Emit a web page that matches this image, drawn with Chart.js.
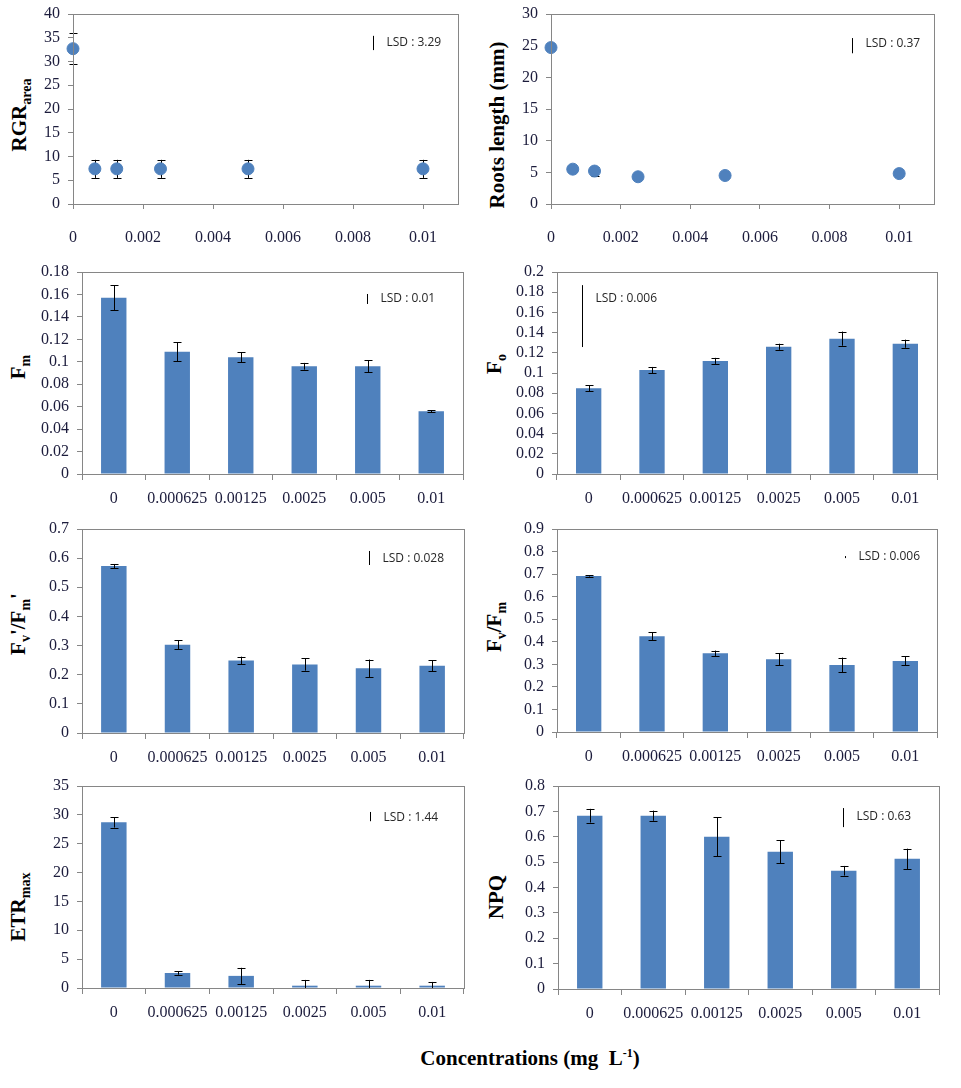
<!DOCTYPE html>
<html>
<head>
<meta charset="utf-8">
<script src="https://cdn.jsdelivr.net/npm/chart.js@4"></script>
<style>
  body { margin: 0; background: #fff; }
  #page { position: relative; width: 961px; height: 1088px; overflow: hidden; }
  canvas { position: absolute; }
  .ytitle {
    position: absolute; white-space: nowrap;
    font: bold 21px "Liberation Serif", serif; color: #000;
    transform: translate(-50%, -50%) rotate(-90deg);
  }
  .ytitle sub { font-size: 14px; }
  #xtitle {
    position: absolute; left: 530px; top: 1058px; transform: translate(-50%, -50%);
    font: bold 21px "Liberation Serif", serif; white-space: nowrap;
  }
  #xtitle sup { font-size: 12px; }
</style>
</head>
<body>
<div id="page">
  <div class="ytitle" style="left:21px;top:115px">RGR<sub>area</sub></div>
  <div class="ytitle" style="left:497px;top:125px">Roots length (mm)</div>
  <div class="ytitle" style="left:20px;top:367px">F<sub>m</sub></div>
  <div class="ytitle" style="left:496px;top:364px">F<sub>o</sub></div>
  <div class="ytitle" style="left:20px;top:624px">F<sub>v</sub>'/F<sub>m</sub>'</div>
  <div class="ytitle" style="left:496px;top:627px">F<sub>v</sub>/F<sub>m</sub></div>
  <div class="ytitle" style="left:20px;top:907px">ETR<sub>max</sub></div>
  <div class="ytitle" style="left:496px;top:897px">NPQ</div>
  <div id="xtitle">Concentrations (mg&nbsp; L<sup>-1</sup>)</div>
</div>
<script>
// === DATA ===
const concLabels = ["0", "0.000625", "0.00125", "0.0025", "0.005", "0.01"];
const concValues = [0, 0.000625, 0.00125, 0.0025, 0.005, 0.01];
const scatterXTicks = [0, 0.002, 0.004, 0.006, 0.008, 0.01];

const rgrArea = [32.7, 7.4, 7.4, 7.4, 7.4, 7.4];
const rgrAreaErr = [3.3, 1.9, 1.9, 1.9, 1.9, 1.9];
const rootsLength = [24.7, 5.5, 5.2, 4.3, 4.5, 4.8];
const rootsLengthErr = [0.3, 0.4, 0.7, 0.3, 0.2, 0.2];

const fm = [0.157, 0.109, 0.104, 0.096, 0.096, 0.056];
const fmErr = [0.011, 0.0085, 0.0045, 0.003, 0.0055, 0.001];
const fo = [0.085, 0.103, 0.112, 0.126, 0.134, 0.129];
const foErr = [0.003, 0.003, 0.003, 0.003, 0.007, 0.004];
const fvFmPrime = [0.573, 0.303, 0.249, 0.235, 0.222, 0.231];
const fvFmPrimeErr = [0.007, 0.016, 0.013, 0.021, 0.03, 0.019];
const fvFm = [0.692, 0.424, 0.349, 0.322, 0.297, 0.315];
const fvFmErr = [0.003, 0.018, 0.012, 0.027, 0.033, 0.02];
const etrMax = [28.7, 2.6, 2.1, 0.4, 0.4, 0.4];
const etrMaxErr = [0.9, 0.3, 1.4, 1.0, 1.0, 0.65];
const npq = [0.683, 0.683, 0.6, 0.541, 0.466, 0.513];
const npqErr = [0.027, 0.02, 0.077, 0.046, 0.019, 0.04];

// === STYLE ===
const BLUE = "#4f81bd";
const AXIS = "#868686";
const TICK_TEXT = "#1c1c3c";
const PAD_L = 70, PAD_T = 10, PAD_R = 8, PAD_B = 45;

// panel layout: plot area box in page pixels + axis/annotation settings
const panels = [
  { type: "scatter", box: [73, 14, 458, 204], y: rgrArea, err: rgrAreaErr, max: 40, step: 5,
    lsd: { text: "LSD : 3.29", frac: 0.779, top: 35.4, bot: 32.4, ty: 33.9 } },
  { type: "scatter", box: [551, 14, 934, 204], y: rootsLength, err: rootsLengthErr, max: 30, step: 5,
    lsd: { text: "LSD : 0.37", frac: 0.786, top: 26.2, bot: 23.8, ty: 25.4 } },
  { type: "bar", box: [82, 272, 463, 474], y: fm, err: fmErr, max: 0.18, step: 0.02,
    lsd: { text: "LSD : 0.01", frac: 0.748, top: 0.1604, bot: 0.1515, ty: 0.156 } },
  { type: "bar", box: [557, 272, 937, 474], y: fo, err: foErr, max: 0.2, step: 0.02,
    lsd: { text: "LSD : 0.006", frac: 0.066, top: 0.187, bot: 0.1257, ty: 0.174 } },
  { type: "bar", box: [82, 529, 464, 733], y: fvFmPrime, err: fvFmPrimeErr, max: 0.7, step: 0.1,
    lsd: { text: "LSD : 0.028", frac: 0.751, top: 0.6246, bot: 0.5765, ty: 0.597 } },
  { type: "bar", box: [557, 529, 937, 732], y: fvFm, err: fvFmErr, max: 0.9, step: 0.1,
    lsd: { text: "LSD : 0.006", frac: 0.758, top: 0.78, bot: 0.771, ty: 0.776 } },
  { type: "bar", box: [82, 786, 464, 988], y: etrMax, err: etrMaxErr, max: 35, step: 5,
    lsd: { text: "LSD : 1.44", frac: 0.754, top: 30.5, bot: 28.9, ty: 29.6 } },
  { type: "bar", box: [558, 786, 939, 989], y: npq, err: npqErr, max: 0.8, step: 0.1,
    lsd: { text: "LSD : 0.63", frac: 0.748, top: 0.713, bot: 0.638, ty: 0.678 } },
];

// === PLUGINS ===
function drawErrors(chart) {
  const ds = chart.data.datasets[0];
  const meta = chart.getDatasetMeta(0);
  const ys = chart.scales.y;
  const area = chart.chartArea;
  const ctx = chart.ctx;
  ctx.save();
  // clip vertically only (bars near zero), points at x = 0 must stay whole
  ctx.beginPath();
  ctx.rect(0, area.top - 1, chart.width, area.bottom - area.top + 1);
  ctx.clip();
  ctx.strokeStyle = "#000";
  ctx.lineWidth = 1;
  ds.errors.forEach((e, i) => {
    const v = ds.data[i].y !== undefined ? ds.data[i].y : ds.data[i];
    const x = Math.round(meta.data[i].x) + 0.5;
    const yTop = ys.getPixelForValue(v + e);
    const yBot = ys.getPixelForValue(v - e);
    ctx.beginPath();
    ctx.moveTo(x, yTop); ctx.lineTo(x, yBot);
    ctx.moveTo(x - 4, Math.round(yTop) + 0.5); ctx.lineTo(x + 4, Math.round(yTop) + 0.5);
    ctx.moveTo(x - 4, Math.round(yBot) + 0.5); ctx.lineTo(x + 4, Math.round(yBot) + 0.5);
    ctx.stroke();
  });
  ctx.restore();
}

const errorBars = {
  id: "errorBars",
  beforeDatasetsDraw(chart) { if (chart.config.type === "scatter") drawErrors(chart); },
  afterDatasetsDraw(chart) { if (chart.config.type === "bar") drawErrors(chart); },
};

const frameAndLsd = {
  id: "frameAndLsd",
  afterDraw(chart, args, opts) {
    const { ctx, chartArea: a } = chart;
    const ys = chart.scales.y;
    ctx.save();
    ctx.strokeStyle = AXIS;
    ctx.lineWidth = 1;
    ctx.strokeRect(Math.round(a.left) + 0.5, Math.round(a.top) + 0.5,
      Math.round(a.right - a.left), Math.round(a.bottom - a.top));
    const lsd = opts.lsd;
    const x = Math.round(a.left + lsd.frac * (a.right - a.left)) + 0.5;
    ctx.strokeStyle = "#000";
    ctx.beginPath();
    ctx.moveTo(x, ys.getPixelForValue(lsd.top));
    ctx.lineTo(x, ys.getPixelForValue(lsd.bot));
    ctx.stroke();
    ctx.fillStyle = "#262626";
    ctx.font = '12px "Open Sans", sans-serif';
    ctx.textBaseline = "middle";
    ctx.fillText(lsd.text, x + 13, ys.getPixelForValue(lsd.ty));
    ctx.restore();
  },
};

// === CHARTS ===
const page = document.getElementById("page");

panels.forEach((p) => {
  const [L, T, R, B] = p.box;
  const w = R - L + PAD_L + PAD_R;
  const h = B - T + PAD_T + PAD_B;
  const canvas = document.createElement("canvas");
  canvas.style.left = L - PAD_L + "px";
  canvas.style.top = T - PAD_T + "px";
  canvas.style.width = w + "px";
  canvas.style.height = h + "px";
  page.appendChild(canvas);

  const isScatter = p.type === "scatter";
  const yAxis = {
    min: 0, max: p.max,
    ticks: {
      stepSize: p.step, padding: 8, color: TICK_TEXT, autoSkip: false,
      font: { family: '"Liberation Serif", serif', size: 16 },
      callback: (v) => String(+v.toFixed(3)),
    },
    grid: { drawOnChartArea: false, tickLength: 5, color: AXIS },
    border: { color: AXIS },
    afterFit: (s) => { s.width = PAD_L; s.paddingTop = 0; s.paddingBottom = 0; },
  };

  const xFit = (s) => { s.height = PAD_B; s.paddingLeft = 0; s.paddingRight = 0; };
  const xAxis = isScatter
    ? {
        type: "linear", min: 0, max: 0.011,
        afterBuildTicks: (s) => { s.ticks = scatterXTicks.map((v) => ({ value: v })); },
        ticks: {
          padding: 19, color: TICK_TEXT, maxRotation: 0, autoSkip: false,
          font: { family: '"Liberation Serif", serif', size: 16 },
          callback: (v) => String(+v.toFixed(4)),
        },
        grid: { drawOnChartArea: false, tickLength: 5, color: AXIS },
        border: { color: AXIS },
        afterFit: xFit,
      }
    : {
        type: "category",
        ticks: {
          padding: 9, color: TICK_TEXT, maxRotation: 0, autoSkip: false,
          font: { family: '"Liberation Serif", serif', size: 16 },
        },
        grid: { drawOnChartArea: false, tickLength: 6, color: AXIS, offset: true },
        border: { color: AXIS },
        afterFit: xFit,
      };

  const dataset = isScatter
    ? {
        data: concValues.map((x, i) => ({ x, y: p.y[i] })),
        errors: p.err,
        backgroundColor: BLUE, borderColor: BLUE,
        pointRadius: 6, pointHoverRadius: 6, clip: false,
      }
    : {
        data: p.y, errors: p.err,
        backgroundColor: BLUE, borderWidth: 0,
        categoryPercentage: 1, barPercentage: 0.4,
      };

  new Chart(canvas, {
    type: p.type,
    data: { labels: isScatter ? undefined : concLabels, datasets: [dataset] },
    options: {
      responsive: false, animation: false, devicePixelRatio: 1,
      layout: { autoPadding: false, padding: { left: 0, top: PAD_T, right: PAD_R, bottom: 0 } },
      plugins: { legend: { display: false }, tooltip: { enabled: false }, frameAndLsd: { lsd: p.lsd } },
      scales: { x: xAxis, y: yAxis },
    },
    plugins: [errorBars, frameAndLsd],
  });
});
</script>
</body>
</html>
